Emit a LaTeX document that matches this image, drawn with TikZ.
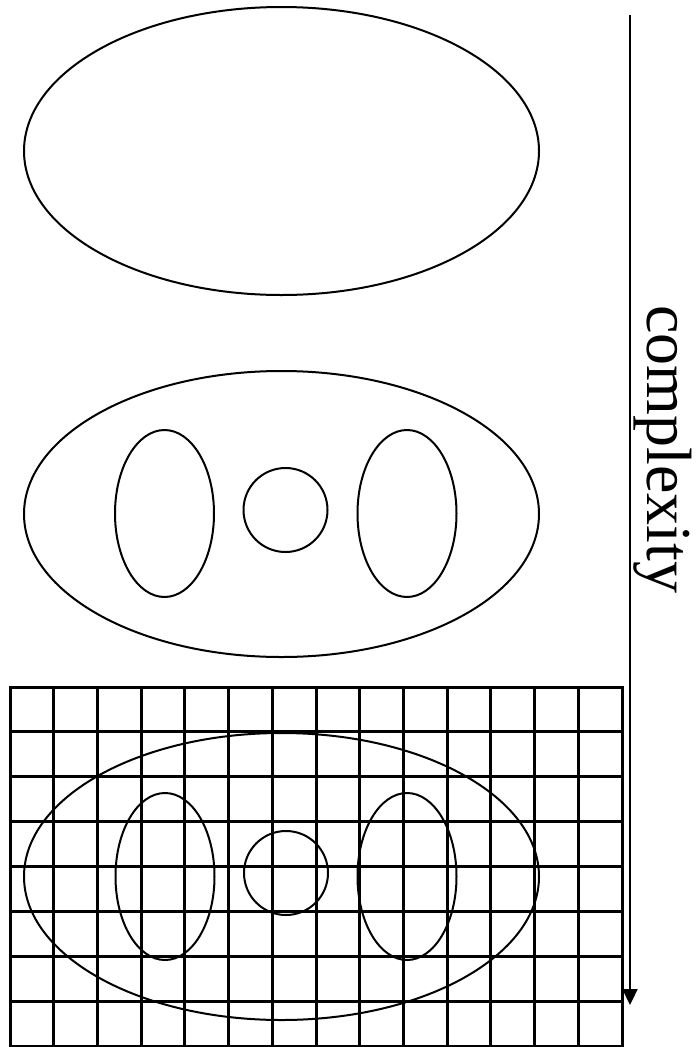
\documentclass[tikz,border=0pt]{standalone}
\usepackage{fontspec}
\setmainfont{Liberation Serif}
\usetikzlibrary{arrows.meta}
\begin{document}
\begin{tikzpicture}[x=1pt,y=-1pt,
  shapeline/.style={line width=2pt},
  gridline/.style={line width=3pt},
  axisline/.style={line width=2.2pt,-{Triangle[width=15pt,length=16pt]}},
  label/.style={font=\fontsize{64}{70}\selectfont,inner sep=0pt,rotate=-90,anchor=base west}]
\useasboundingbox (0,0) rectangle (698,1047);
% grid
\foreach \i in {0,...,14}
  \draw[gridline] ({10+\i*43.714},687) -- ({10+\i*43.714},1046);
\foreach \j in {0,...,8}
  \draw[gridline] (8.5,{687+\j*44.875}) -- (623.5,{687+\j*44.875});
% top
\draw[shapeline] (281.5,151) ellipse [x radius=257.5, y radius=144];
% middle
\draw[shapeline] (281.5,514) ellipse [x radius=257.5, y radius=143];
\draw[shapeline] (164.5,513.5) ellipse [x radius=49.5, y radius=83.5];
\draw[shapeline] (285.5,510) circle [radius=42];
\draw[shapeline] (407,513.5) ellipse [x radius=49.5, y radius=83.5];
% bottom
\draw[shapeline] (281.5,876.5) ellipse [x radius=257.5, y radius=143.5];
\draw[shapeline] (165,876.5) ellipse [x radius=49.5, y radius=83.5];
\draw[shapeline] (286,873) circle [radius=42];
\draw[shapeline] (407,876.5) ellipse [x radius=49.5, y radius=83.5];
% axis
\coordinate (astart) at (630,15);
\coordinate (aend) at (630,1005);
\draw[axisline] (astart) -- (aend);
\node[label] (lbl) at (647,305) {complexity};
\end{tikzpicture}
\end{document}
